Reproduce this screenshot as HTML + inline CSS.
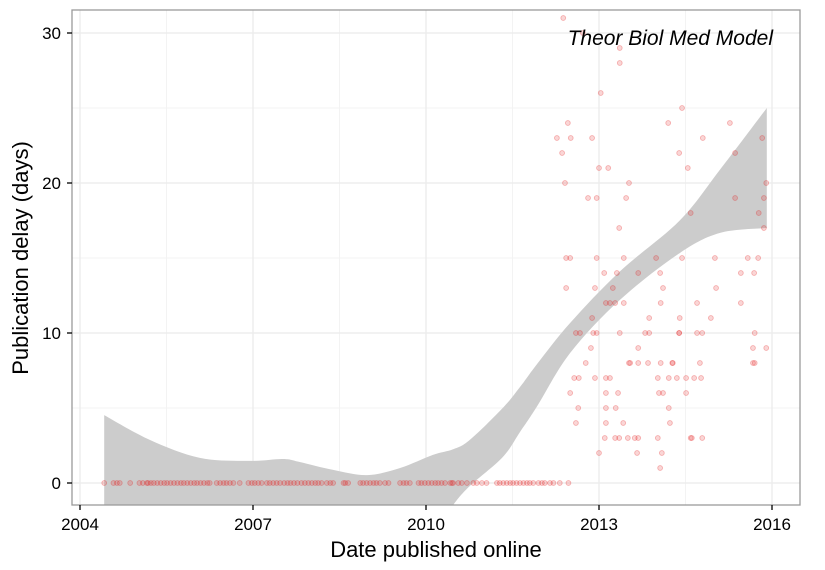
<!DOCTYPE html>
<html><head><meta charset="utf-8"><style>
html,body{margin:0;padding:0;background:#fff;overflow:hidden;width:825px;height:570px;}
svg{display:block;overflow:hidden;}
svg text{font-family:"Liberation Sans",Arial,sans-serif;}
</style></head><body>
<svg id="chart" width="825" height="570" xmlns="http://www.w3.org/2000/svg">
<defs><clipPath id="pc"><rect x="72" y="10" width="728" height="495"/></clipPath></defs>
<rect x="0" y="0" width="825" height="570" fill="#fff"/>
<g id="grid"></g>
<g id="ribbon" clip-path="url(#pc)"></g>
<g id="pts" clip-path="url(#pc)"></g>
<rect x="72" y="10" width="728" height="495" fill="none" stroke="#9a9a9a" stroke-width="1.3"/>
<g id="axes"></g>
<text x="773" y="45" text-anchor="end" font-size="21" font-style="italic" fill="#000">Theor Biol Med Model</text>
<text x="436" y="557" text-anchor="middle" font-size="22">Date published online</text>
<text transform="translate(28,258) rotate(-90)" text-anchor="middle" font-size="22">Publication delay (days)</text>
</svg>
<script>
const xTicks=[2004,2007,2010,2013,2016];
const xMinor=[2005.5,2008.5,2011.5,2014.5];
const yTicks=[0,10,20,30];
const yMinor=[5,15,25];
const ribX=[2004.42,2005.21,2006.08,2006.95,2007.52,2007.81,2008.39,2008.98,2009.55,2010.12,2010.47,2010.76,2011.33,2011.63,2011.92,2012.5,2013.36,2014.4,2015.1,2015.91];
const ribUpper=[4.53,2.87,1.67,1.47,1.6,1.4,0.87,0.53,1.0,1.87,2.25,2.87,5.0,6.4,7.9,10.67,14.1,17.5,20.9,25.0];
const ribLower=[-30,-25,-20,-17,-15,-14,-12,-10,-7,-3.5,-1.47,-0.2,1.73,3.4,5.07,8.67,12.2,15.33,16.67,17.0];
const zeroDates=[2004.42,2004.58,2004.64,2004.69,2004.87,2005.03,2005.09,2005.16,2005.18,2005.23,2005.28,2005.34,2005.40,2005.46,2005.51,2005.57,2005.63,2005.69,2005.75,2005.80,2005.86,2005.92,2005.98,2006.03,2006.09,2006.15,2006.21,2006.25,2006.37,2006.43,2006.49,2006.54,2006.60,2006.66,2006.77,2006.92,2006.98,2007.03,2007.09,2007.15,2007.24,2007.29,2007.35,2007.41,2007.47,2007.54,2007.60,2007.65,2007.71,2007.77,2007.84,2007.90,2007.96,2008.02,2008.08,2008.13,2008.19,2008.28,2008.34,2008.39,2008.57,2008.60,2008.65,2008.86,2008.91,2008.97,2009.03,2009.09,2009.14,2009.20,2009.29,2009.35,2009.55,2009.61,2009.66,2009.72,2009.87,2009.92,2009.98,2010.04,2010.10,2010.16,2010.21,2010.27,2010.33,2010.42,2010.45,2010.47,2010.56,2010.62,2010.71,2010.82,2010.88,2010.97,2011.05,2011.23,2011.28,2011.34,2011.40,2011.46,2011.51,2011.57,2011.63,2011.69,2011.75,2011.80,2011.86,2011.95,2012.01,2012.06,2012.15,2012.21,2012.32,2012.47];
const laterDates=[2012.38,2012.72,2013.36,2013.36,2013.03,2014.44,2014.20,2012.46,2015.27,2012.27,2012.51,2012.88,2014.80,2015.83,2012.36,2014.39,2015.36,2013.00,2013.16,2014.54,2012.41,2013.52,2015.90,2012.81,2012.96,2013.47,2015.36,2015.86,2014.59,2015.77,2015.86,2013.35,
2012.43,2012.50,2012.96,2013.43,2013.99,2014.44,2015.01,2015.58,2015.76,
2013.09,2013.31,2013.68,2014.06,2015.46,2015.69,
2012.43,2012.93,2013.24,2014.11,2015.03,
2013.12,2013.19,2013.28,2013.43,2014.07,2014.70,2015.46,
2012.88,2013.87,2014.40,2014.94,
2012.60,2012.67,2012.90,2012.96,2013.36,2013.80,2013.87,2014.39,2014.39,2014.70,2014.79,2015.70,
2012.86,2013.68,2015.67,2015.90,
2012.77,2013.52,2013.54,2013.68,2013.85,2014.07,2014.27,2014.28,2014.75,2015.67,2015.70,
2012.57,2012.65,2012.93,2013.12,2013.19,2014.02,2014.21,2014.35,2014.51,2014.65,2014.77,
2012.50,2013.12,2013.33,2014.04,2014.11,2014.51,
2012.64,2013.12,2013.29,2014.21,
2012.60,2013.12,2013.42,2014.23,
2013.10,2013.28,2013.35,2013.50,2013.62,2013.68,2014.02,2014.59,2014.61,2014.79,
2013.00,2013.66,2014.09,
2014.06];
const laterDelays=[31,30,29,28,26,25,24,24,24,23,23,23,23,23,22,22,22,21,21,21,20,20,20,19,19,19,19,19,18,18,17,17,
15,15,15,15,15,15,15,15,15,
14,14,14,14,14,14,
13,13,13,13,13,
12,12,12,12,12,12,12,
11,11,11,11,
10,10,10,10,10,10,10,10,10,10,10,10,
9,9,9,9,
8,8,8,8,8,8,8,8,8,8,8,
7,7,7,7,7,7,7,7,7,7,7,
6,6,6,6,6,6,
5,5,5,5,
4,4,4,4,
3,3,3,3,3,3,3,3,3,3,
2,2,2,
1];
const NS="http://www.w3.org/2000/svg";
const xS=v=>80+(v-2004)*57.667;
const yS=v=>483-v*15;
function mk(tag,attrs,parent){const e=document.createElementNS(NS,tag);for(const k in attrs)e.setAttribute(k,attrs[k]);parent.appendChild(e);return e;}
const grid=document.getElementById('grid'),axes=document.getElementById('axes');
xMinor.forEach(v=>{const l=mk('line',{x1:xS(v),x2:xS(v),y1:10,y2:505,stroke:'#f3f3f3','stroke-width':1},grid);

});
yMinor.forEach(v=>{const l=mk('line',{x1:72,x2:800,y1:yS(v),y2:yS(v),stroke:'#f3f3f3','stroke-width':1},grid);

});
xTicks.forEach(v=>{const l=mk('line',{x1:xS(v),x2:xS(v),y1:10,y2:505,stroke:'#ebebeb','stroke-width':1.3},grid);


const t=mk('line',{x1:xS(v),x2:xS(v),y1:505,y2:510,stroke:'#000','stroke-width':1.3},axes);


const tx=mk('text',{x:xS(v),y:530,'text-anchor':'middle','font-size':17},axes);tx.textContent=v;

});
yTicks.forEach(v=>{const l=mk('line',{x1:72,x2:800,y1:yS(v),y2:yS(v),stroke:'#ebebeb','stroke-width':1.3},grid);


const t=mk('line',{x1:67,x2:72,y1:yS(v),y2:yS(v),stroke:'#000','stroke-width':1.3},axes);


const tx=mk('text',{x:61,y:yS(v)+6,'text-anchor':'end','font-size':17},axes);tx.textContent=v;

});
function smooth(P,start){let s=start?'M'+P[0][0].toFixed(1)+','+P[0][1].toFixed(1):'L'+P[0][0].toFixed(1)+','+P[0][1].toFixed(1);
for(let i=0;i<P.length-1;i++){const p0=P[Math.max(0,i-1)],p1=P[i],p2=P[i+1],p3=P[Math.min(P.length-1,i+2)];
const c1=[p1[0]+(p2[0]-p0[0])/6,p1[1]+(p2[1]-p0[1])/6],c2=[p2[0]-(p3[0]-p1[0])/6,p2[1]-(p3[1]-p1[1])/6];
s+='C'+c1[0].toFixed(1)+','+c1[1].toFixed(1)+' '+c2[0].toFixed(1)+','+c2[1].toFixed(1)+' '+p2[0].toFixed(1)+','+p2[1].toFixed(1);}
return s;}
const up=ribX.map((v,i)=>[xS(v),yS(ribUpper[i])]);
const lo=ribX.map((v,i)=>[xS(v),yS(ribLower[i])]).reverse();
const rp=mk('path',{d:smooth(up,true)+smooth(lo,false)+'Z',fill:'#cccccc'},document.getElementById('ribbon'));


const pts=document.getElementById('pts');
function pt(x,y){const c=mk('circle',{cx:xS(x),cy:yS(y),r:2.4,fill:'rgba(228,26,28,0.18)',stroke:'rgba(228,26,28,0.3)','stroke-width':0.9},pts);

}
zeroDates.forEach(x=>pt(x,0));
laterDates.forEach((x,i)=>pt(x,laterDelays[i]));
</script>
</body></html>
